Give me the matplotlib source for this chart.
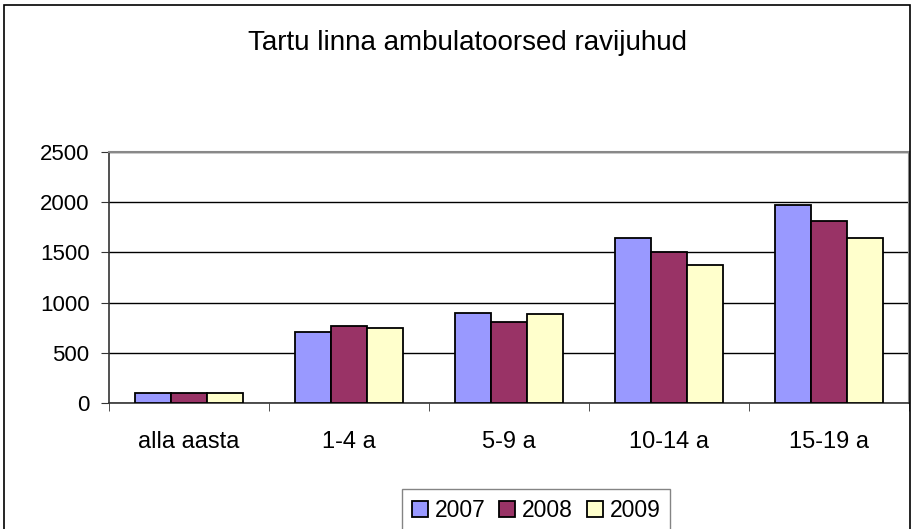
import numpy as np
import matplotlib.pyplot as plt
from matplotlib.patches import Rectangle

# Andmed
vanuserühmad = ["alla aasta", "1-4 a", "5-9 a", "10-14 a", "15-19 a"]
aastad = ["2007", "2008", "2009"]
juhud_2007 = [95, 705, 898, 1643, 1969]
juhud_2008 = [95, 765, 802, 1506, 1815]
juhud_2009 = [95, 745, 882, 1374, 1640]
värvid = ["#9999FF", "#993366", "#FFFFCC"]
y_ticks = [0, 500, 1000, 1500, 2000, 2500]

plt.rcParams["font.family"] = ["Liberation Sans", "DejaVu Sans"]

fig = plt.figure(figsize=(9.15, 5.29), dpi=100)
# välimine raam
fig.patches.append(Rectangle((4 / 915, -0.01), 906 / 915, 1 - 5 / 529 + 0.01,
                             transform=fig.transFigure, fill=False,
                             edgecolor="black", linewidth=1.2))

ax = fig.add_axes([109 / 915, 1 - 403 / 529, 800 / 915, 251 / 529])

x = np.arange(len(vanuserühmad))
w = 0.224
for i, (vals, c) in enumerate(zip([juhud_2007, juhud_2008, juhud_2009], värvid)):
    ax.bar(x + (i - 1) * w, vals, width=w, color=c, edgecolor="black",
           linewidth=1.3, label=aastad[i], zorder=3)

ax.set_xlim(-0.5, len(vanuserühmad) - 0.5)
ax.set_ylim(0, 2500)
ax.set_yticks(y_ticks)
ax.set_yticklabels([str(v) for v in y_ticks], fontsize=16)
ax.yaxis.grid(True, color="black", linewidth=1, zorder=0)
ax.set_xticks(x)
ax.set_xticklabels(vanuserühmad, fontsize=17)
ax.set_xticks(np.arange(len(vanuserühmad) + 1) - 0.5, minor=True)
ax.tick_params(axis="x", which="major", length=0, pad=20)
ax.tick_params(axis="x", which="minor", length=6, color="#333333")
ax.tick_params(axis="y", length=6, color="#333333", pad=8)

for s in ["top", "right"]:
    ax.spines[s].set_color("#888888")
    ax.spines[s].set_linewidth(1.5)
for s in ["left", "bottom"]:
    ax.spines[s].set_color("#333333")
    ax.spines[s].set_linewidth(1.2)

fig.text(468 / 915, 1 - 43 / 529, "Tartu linna ambulatoorsed ravijuhud",
         ha="center", va="center", fontsize=20)

leg = fig.legend(loc="lower center", bbox_to_anchor=(536 / 915, -0.025), ncol=3,
                 fontsize=16.5, frameon=True, fancybox=False, edgecolor="#666666",
                 handlelength=0.7, handleheight=0.7, handletextpad=0.3,
                 columnspacing=0.6, borderpad=0.4)
leg.get_frame().set_linewidth(1.0)

fig.savefig("out.png", dpi=100)
